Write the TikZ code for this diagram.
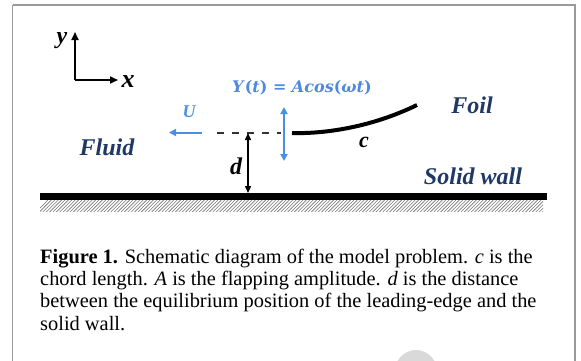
\documentclass[tikz,border=0pt]{standalone}
\usepackage{fontspec}
\setmainfont{Liberation Serif}
\newfontfamily\eqfont{DejaVu Serif}
\usetikzlibrary{arrows.meta}
\definecolor{navy}{HTML}{1F3864}
\definecolor{flowblue}{HTML}{4A8FE7}
\definecolor{eqblue}{HTML}{4F88E0}
\definecolor{framegray}{HTML}{9A9A9A}
\tikzset{
  lbl/.style={font=\fontsize{24}{28}\selectfont\bfseries\itshape, text=navy, inner sep=0pt},
  sym/.style={font=\fontsize{24}{28}\selectfont\bfseries\itshape, text=black, inner sep=0pt},
  bluearrow/.style={draw=flowblue, line width=2pt, -{Triangle[length=7pt,width=7pt]}},
  bluedbl/.style={draw=flowblue, line width=2pt, {Triangle[length=7pt,width=7pt]}-{Triangle[length=7pt,width=7pt]}},
  axis/.style={draw=black, line width=1.8pt, -{Triangle[length=8pt,width=7pt]}},
  captext/.style={font=\fontsize{20.4}{22}\selectfont, inner sep=0pt, anchor=base west},
}
\begin{document}
\begin{tikzpicture}[x=1pt,y=-1pt]
\useasboundingbox (0,0) rectangle (581,360);
\begin{scope}
\clip (0,0) rectangle (581,360);
\draw[framegray, line width=1.5pt] (12.5,5) -- (575,5) -- (575,370) (12.5,5) -- (12.5,370);
\fill[black!15] (416,374) ellipse [x radius=22, y radius=24];
\end{scope}
% axes
\coordinate (O) at (75,80);
\coordinate (Ytip) at (75,32);
\coordinate (Xtip) at (118,80);
\draw[axis] (O) -- (Ytip);
\draw[axis] (O) -- (Xtip);
\node[sym] (ylab) at (62,41) {y};
\node[sym, font=\fontsize{26}{28}\selectfont\bfseries\itshape] (xlab) at (128,82) {x};
% wall
\node[fill=black, minimum width=507pt, minimum height=7pt, inner sep=0pt, anchor=north west] (wall) at (40,193) {};
\begin{scope}
\clip (40,200.5) rectangle (543,211);
\foreach \i in {0,...,155} {
  \draw[black!55, line width=0.6pt] ({36+3.4*\i},212) -- ({48+3.4*\i},200);
}
\end{scope}
% flow
\coordinate (Ustart) at (202,132.5);
\coordinate (Uend) at (169,132.5);
\draw[bluearrow] (Ustart) -- (Uend);
\node[lbl, text=flowblue, font=\fontsize{18}{20}\selectfont\bfseries\itshape] (U) at (189,112) {U};
% dashed equilibrium line
\coordinate (Dstart) at (217,132.5);
\coordinate (Dend) at (281,132.5);
\draw[black!80, line width=2pt, dash pattern=on 7pt off 8pt] (Dstart) -- (Dend);
% d arrow
\coordinate (dtop) at (248,133);
\coordinate (dbot) at (248,193);
\draw[black, line width=1.4pt, {Triangle[length=7pt,width=6pt]}-{Triangle[length=7pt,width=6pt]}] (dtop) -- (dbot);
\node[sym] (dlab) at (236,166) {d};
% heave arrow
\coordinate (htop) at (284,107);
\coordinate (hbot) at (284,161);
\draw[bluedbl] (htop) -- (hbot);
\node[inner sep=0pt, text=eqblue, font=\fontsize{16}{18}\selectfont\eqfont\bfseries, anchor=base west] (eqlab) at (232,92.7) {\textit{Y}(\textit{t}) = \textit{Acos}(\textit{ωt})};
% foil
\coordinate (LE) at (292,133);
\coordinate (TE) at (417,105);
\draw[black, line width=4pt] (LE) .. controls (325,134) and (372,127) .. (TE);
\node[sym, font=\fontsize{22}{24}\selectfont\bfseries\itshape] (clab) at (364,142) {c};
% labels
\node[lbl] (foil) at (472,105) {Foil};
\node[lbl] (fluid) at (107,147) {Fluid};
\node[lbl] (solid) at (473,176) {Solid wall};
% caption
\node[captext] (cap1) at (40,263.5) {\textbf{Figure 1.} Schematic diagram of the model problem. \textit{c} is the};
\node[captext] (cap2) at (40,285.7) {chord length. \textit{A} is the flapping amplitude. \textit{d} is the distance};
\node[captext] (cap3) at (40,307.9) {between the equilibrium position of the leading-edge and the};
\node[captext] (cap4) at (40,330) {solid wall.};
\end{tikzpicture}
\end{document}
